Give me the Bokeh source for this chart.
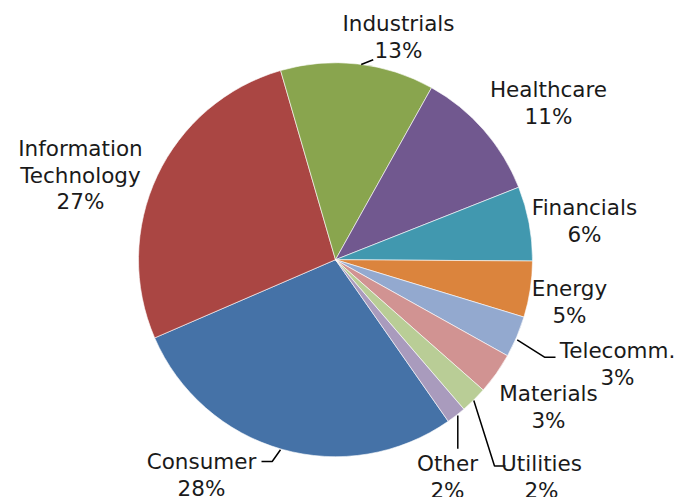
import math
from bokeh.plotting import figure
from bokeh.models import Range1d, ColumnDataSource
from bokeh.core.properties import value
from bokeh.embed import file_html
from bokeh.resources import INLINE

# ---- data ----
sectors = ["Consumer", "Information\nTechnology", "Industrials", "Healthcare", "Financials",
           "Energy", "Telecomm.", "Materials", "Utilities", "Other"]
weights = [28.2, 27.0, 12.6, 10.9, 6.1, 4.6, 3.4, 3.4, 2.2, 1.6]
colors = ["#4572A7", "#AA4643", "#89A54E", "#71588F", "#4198AF",
          "#DB843D", "#93A9CF", "#D19392", "#B9CD96", "#A99BBD"]

# ---- layout (screenshot pixel coordinates) ----
W, H = 678, 497
def Y(py):
    return H - py

cx, cy, R = 335, Y(259.2), 197
first_angle = 145.1  # degrees clockwise from 12 o'clock

label_pos = [(201, 461), (80, 148), (398, 23), (548, 89), (584, 207),
             (569, 288), (617, 350), (548, 393), (541, 463), (447, 463)]
line_h = 26.5

leaders = [
    [(261, 461), (271.7, 461), (280, 449.3)],
    None,
    [(360.7, 64), (372.7, 59.3)],
    None, None, None,
    [(516.7, 339.3), (544, 356.7), (555, 356.7)],
    None,
    [(473.3, 400), (494, 465.5), (505, 465.5)],
    [(457.3, 415), (457.3, 448.3)],
]

total = sum(weights)
starts, ends = [], []
acc = first_angle
for w in weights:
    a1 = acc
    a2 = acc + w / total * 360.0
    acc = a2
    starts.append(math.radians(90 - a2))
    ends.append(math.radians(90 - a1))

p = figure(width=W, height=H, output_backend="svg", toolbar_location=None,
           x_range=Range1d(0, W), y_range=Range1d(0, H), min_border=0)
p.axis.visible = False
p.grid.visible = False
p.outline_line_color = None
p.background_fill_color = "white"
p.border_fill_color = "white"

src = ColumnDataSource(dict(start=starts, end=ends, color=colors))
p.wedge(x=cx, y=cy, radius=R, start_angle="start", end_angle="end",
        fill_color="color", line_color="white", line_width=0.6, source=src)

xs, ys = [], []
for ld in leaders:
    if ld:
        xs.append([pt[0] for pt in ld])
        ys.append([Y(pt[1]) for pt in ld])
p.multi_line(xs=xs, ys=ys, line_color="black", line_width=1.5)

tx, ty, tt = [], [], []
for name, w, (lx, ly) in zip(sectors, weights, label_pos):
    lines = name.split("\n") + ["%d%%" % round(w / total * 100)]
    for i, t in enumerate(lines):
        tx.append(lx)
        ty.append(Y(ly + i * line_h))
        tt.append(t)
p.text(x=tx, y=ty, text=tt, text_align="center", text_baseline="middle",
       text_font=value("DejaVu Sans"), text_font_size="21.5px", text_color="#1a1a1a")

open("out.html", "w").write(file_html(p, INLINE))
